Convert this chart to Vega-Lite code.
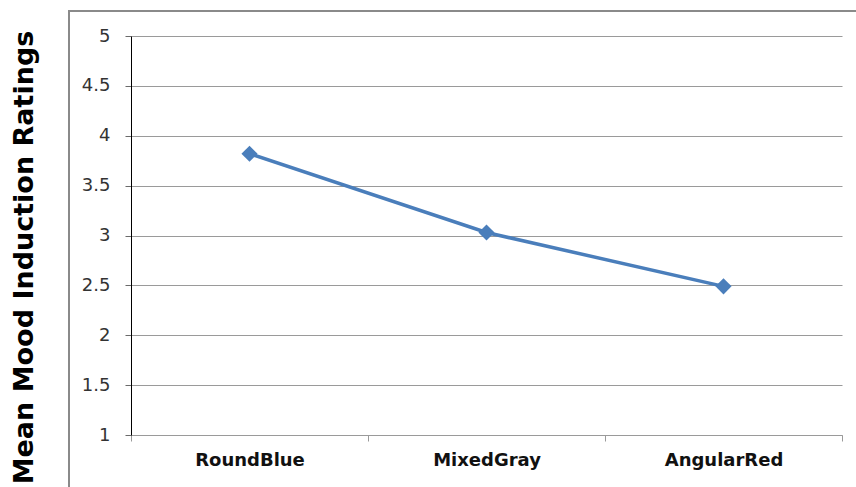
{
  "$schema": "https://vega.github.io/schema/vega-lite/v6.json",
  "autosize": {"type": "none"},
  "padding": {"left": 69, "top": 11, "right": 0, "bottom": 0},
  "width": 789,
  "height": 478,
  "background": "white",
  "config": {
    "view": {"stroke": "#8a8a8a", "strokeWidth": 2},
    "axis": {"labelFont": "DejaVu Sans", "titleFont": "DejaVu Sans"}
  },
  "data": {
    "values": [
      {"condition": "RoundBlue", "rating": 3.82},
      {"condition": "MixedGray", "rating": 3.03},
      {"condition": "AngularRed", "rating": 2.49}
    ]
  },
  "encoding": {
    "x": {
      "field": "condition",
      "type": "nominal",
      "sort": ["RoundBlue", "MixedGray", "AngularRed"],
      "scale": {"type": "band", "range": [62, 773], "paddingInner": 0, "paddingOuter": 0},
      "axis": {
        "title": null,
        "offset": -54,
        "grid": false,
        "tickBand": "extent",
        "domainColor": "#9a9a9a",
        "domainWidth": 1,
        "tickColor": "#9a9a9a",
        "tickSize": 6,
        "labelAngle": 0,
        "labelFontSize": 18,
        "labelFontWeight": "bold",
        "labelColor": "#111111",
        "labelPadding": 10
      }
    },
    "y": {
      "field": "rating",
      "type": "quantitative",
      "scale": {"domain": [1, 5], "range": [424, 25], "nice": false, "zero": false},
      "axis": {
        "title": "Mean Mood Induction Ratings",
        "offset": -62,
        "values": [1, 1.5, 2, 2.5, 3, 3.5, 4, 4.5, 5],
        "format": "~g",
        "grid": true,
        "gridColor": "#9a9a9a",
        "gridWidth": 1,
        "domainColor": "#000000",
        "domainWidth": 1,
        "tickColor": "#6a6a6a",
        "tickSize": 6,
        "labelFontSize": 18,
        "labelColor": "#333333",
        "labelPadding": 15,
        "titleFont": "DejaVu Sans",
        "titleFontSize": 27,
        "titleFontWeight": "bold",
        "titleColor": "#000000",
        "titleAngle": 270,
        "titleAlign": "center",
        "titleBaseline": "alphabetic",
        "titleX": -99,
        "titleY": 246
      }
    }
  },
  "layer": [
    {"mark": {"type": "line", "color": "#4a7ebb", "strokeWidth": 3.5}},
    {"mark": {"type": "point", "shape": "diamond", "filled": true, "size": 260, "color": "#4a7ebb", "opacity": 1}}
  ]
}
